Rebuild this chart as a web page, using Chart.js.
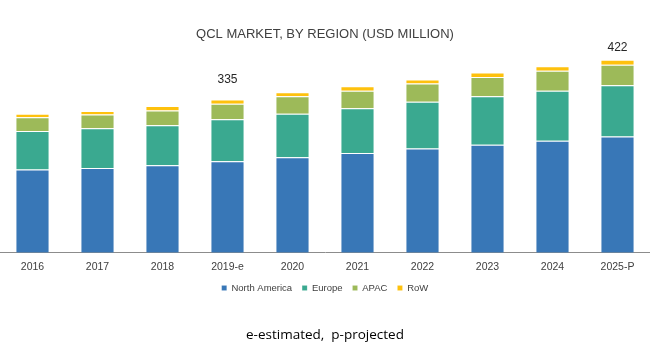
<!DOCTYPE html>
<html>
<head>
<meta charset="utf-8">
<script src="https://cdn.jsdelivr.net/npm/chart.js@4/dist/chart.umd.min.js"></script>
<style>
  html, body { margin: 0; padding: 0; background: #fff; }
  #wrap { width: 650px; height: 349px; }
</style>
</head>
<body>
<div id="wrap"><canvas id="qcl-market"></canvas></div>
<script>
const years = ['2016', '2017', '2018', '2019-e', '2020', '2021', '2022', '2023', '2024', '2025-P'];
const northAmerica = [182, 185, 191, 200, 209, 218, 228, 236, 245, 254];
const europe = [84, 87, 88, 92, 95, 98, 102, 106, 109, 112];
const apac = [30, 30, 32, 34, 38, 38, 40, 42, 44, 45];
const row = [8, 8, 10, 9, 9, 10, 9, 10, 10, 11];
// totals are shown only on these bars
const labelledYears = ['2019-e', '2025-P'];

// writes the stacked total above the chosen bars
const totalLabels = {
  id: 'totalLabels',
  afterDatasetsDraw(chart, args, opts) {
    const ctx = chart.ctx;
    const top = chart.getDatasetMeta(chart.data.datasets.length - 1);
    ctx.save();
    ctx.font = '12px "Liberation Sans", Arial, sans-serif';
    ctx.fillStyle = '#262626';
    ctx.textAlign = 'center';
    ctx.textBaseline = 'middle';
    years.forEach((y, i) => {
      if (!labelledYears.includes(y)) return;
      const total = northAmerica[i] + europe[i] + apac[i] + row[i];
      const bar = top.data[i];
      const off = (opts.offsets && opts.offsets[y]) || 16;
      ctx.fillText(String(total), bar.x, bar.y - off);
    });
    ctx.restore();
  }
};

function segment(label, data, color) {
  return {
    label: label,
    data: data,
    backgroundColor: color,
    borderColor: 'rgba(255,255,255,0.45)',
    borderWidth: {top: 1, bottom: 0, left: 0, right: 0},
    borderSkipped: false,
    barPercentage: 0.5,
    categoryPercentage: 1.0
  };
}

var ctx = document.getElementById('qcl-market');
var myChart = new Chart(ctx, {
  type: 'bar',
  data: {
    labels: years,
    datasets: [
      segment('North America', northAmerica, '#3877b7'),
      segment('Europe', europe, '#3aa990'),
      segment('APAC', apac, '#9dba59'),
      segment('RoW', row, '#fec10d')
    ]
  },
  options: {
    responsive: true,
    maintainAspectRatio: false,
    animation: false,
    layout: { padding: { left: 0, right: 0, top: 0, bottom: 0 } },
    scales: {
      x: {
        stacked: true,
        grid: { display: false, drawTicks: false },
        border: { display: true, color: '#8c8c8c', width: 1 },
        ticks: {
          color: '#404040',
          padding: 8,
          font: { family: '"Liberation Sans", Arial, sans-serif', size: 10.5 }
        },
        // pull the legend a little closer to the year labels
        afterFit(scale) { scale.height -= 8; }
      },
      y: {
        stacked: true,
        display: false,
        min: 0,
        max: 442
      }
    },
    plugins: {
      title: {
        display: true,
        text: 'QCL MARKET, BY REGION (USD MILLION)',
        color: '#404040',
        font: { family: '"Liberation Sans", Arial, sans-serif', size: 13, weight: 'normal' },
        padding: { top: 27, bottom: 8 }
      },
      subtitle: {
        display: true,
        position: 'bottom',
        text: 'e-estimated,  p-projected',
        color: '#000',
        font: { family: '"Open Sans", "Liberation Sans", sans-serif', size: 13.5 },
        padding: { top: 24, bottom: 6 }
      },
      legend: {
        position: 'bottom',
        labels: {
          color: '#404040',
          boxWidth: 5,
          boxHeight: 5,
          padding: 10,
          font: { family: '"Liberation Sans", Arial, sans-serif', size: 9.5 }
        }
      },
      tooltip: { enabled: false },
      totalLabels: { offsets: { '2019-e': 20, '2025-P': 12 } }
    }
  },
  plugins: [totalLabels]
});
</script>
</body>
</html>
